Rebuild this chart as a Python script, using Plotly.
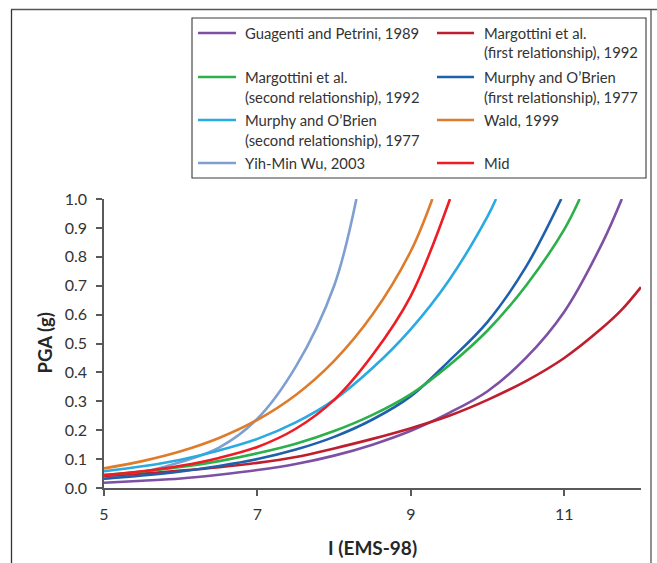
import plotly.graph_objects as go

# ---------------- data ----------------
I_guagenti = [5, 5.5, 6, 6.5, 7, 7.5, 8, 8.5, 9, 9.5, 10, 10.5, 11, 11.5, 11.75]
pga_guagenti = [0.018, 0.025, 0.033, 0.046, 0.062, 0.083, 0.112, 0.15, 0.198, 0.26, 0.335, 0.45, 0.61, 0.85, 1.0]

I_marg1 = [5, 5.5, 6, 6.5, 7, 7.5, 8, 8.5, 9, 9.5, 10, 10.5, 11, 11.5, 11.75, 12]
pga_marg1 = [0.042, 0.05, 0.06, 0.072, 0.087, 0.107, 0.137, 0.17, 0.207, 0.25, 0.305, 0.37, 0.45, 0.555, 0.617, 0.695]

I_marg2 = [5, 5.5, 6, 6.5, 7, 7.5, 8, 8.5, 9, 9.5, 10, 10.5, 11, 11.2]
pga_marg2 = [0.045, 0.057, 0.073, 0.093, 0.12, 0.153, 0.197, 0.253, 0.325, 0.425, 0.545, 0.70, 0.895, 1.0]

I_murphy1 = [5, 5.5, 6, 6.5, 7, 7.5, 8, 8.5, 9, 9.5, 10, 10.5, 10.96]
pga_murphy1 = [0.032, 0.043, 0.057, 0.076, 0.100, 0.133, 0.177, 0.237, 0.318, 0.44, 0.575, 0.765, 1.0]

I_murphy2 = [5, 5.5, 6, 6.5, 7, 7.5, 8, 8.5, 9, 9.5, 10, 10.11]
pga_murphy2 = [0.058, 0.075, 0.098, 0.13, 0.17, 0.227, 0.305, 0.415, 0.55, 0.72, 0.94, 1.0]

I_wald = [5, 5.5, 6, 6.5, 7, 7.5, 8, 8.5, 9, 9.28]
pga_wald = [0.068, 0.093, 0.127, 0.173, 0.236, 0.322, 0.44, 0.60, 0.82, 1.0]

I_wu = [5, 5.5, 6, 6.5, 7, 7.5, 8, 8.29]
pga_wu = [0.032, 0.054, 0.09, 0.14, 0.24, 0.42, 0.70, 1.0]

I_mid = [5, 5.5, 6, 6.5, 7, 7.5, 8, 8.5, 9, 9.51]
pga_mid = [0.045, 0.058, 0.077, 0.104, 0.142, 0.205, 0.305, 0.46, 0.665, 1.0]

series_names = [
    ["Guagenti and Petrini, 1989"],
    ["Margottini et al.", "(first relationship), 1992"],
    ["Margottini et al.", "(second relationship), 1992"],
    ["Murphy and O\u2019Brien", "(first relationship), 1977"],
    ["Murphy and O\u2019Brien", "(second relationship), 1977"],
    ["Wald, 1999"],
    ["Yih-Min Wu, 2003"],
    ["Mid"],
]
x_ticks = [5, 7, 9, 11]

# ---------------- styling ----------------
colors = ["#7d50a4", "#be1e2d", "#2bb04a", "#1f60ad", "#29abe2",
          "#df7c2c", "#7f9fd1", "#ee1c25"]
series_I = [I_guagenti, I_marg1, I_marg2, I_murphy1, I_murphy2, I_wald, I_wu, I_mid]
series_P = [pga_guagenti, pga_marg1, pga_marg2, pga_murphy1, pga_murphy2, pga_wald, pga_wu, pga_mid]

FONT = "Lato"
W, H = 657, 563
L, R, T, B = 104, 641, 199, 488   # plot area in pixels


def px(x):
    return (x - L) / (R - L)


def py(y):
    return (B - y) / (B - T)


fig = go.Figure()
order = [6, 0, 1, 3, 2, 4, 5, 7]
for k in order:
    fig.add_trace(go.Scatter(
        x=series_I[k], y=series_P[k], mode="lines",
        line=dict(color=colors[k], width=2.6, shape="spline", smoothing=1.0),
        name=" ".join(series_names[k]), showlegend=False,
    ))

shapes = []
annotations = []

# outer frame
shapes.append(dict(type="line", xref="paper", yref="paper",
                   x0=px(11), x1=px(657), y0=py(9.5), y1=py(9.5),
                   line=dict(color="#555555", width=1.6)))
shapes.append(dict(type="line", xref="paper", yref="paper",
                   x0=px(11.5), x1=px(11.5), y0=py(9.5), y1=py(570),
                   line=dict(color="#333333", width=1.3)))
shapes.append(dict(type="line", xref="paper", yref="paper",
                   x0=px(651), x1=px(651), y0=py(9.5), y1=py(570),
                   line=dict(color="#555555", width=1.3)))

# legend box
shapes.append(dict(type="rect", xref="paper", yref="paper",
                   x0=px(192), x1=px(646), y0=py(178), y1=py(18),
                   line=dict(color="#3a3a3a", width=1.1), fillcolor="rgba(0,0,0,0)"))

legend_pos = [(0, 0), (1, 0), (0, 1), (1, 1), (0, 2), (1, 2), (0, 3), (1, 3)]
col_line = [(198, 236), (437, 474)]
col_text = [243, 482]
row_y = [33, 77, 120, 163]
line_gap = 19.5

for k, (c, r) in enumerate(legend_pos):
    y0 = row_y[r]
    shapes.append(dict(type="line", xref="paper", yref="paper",
                       x0=px(col_line[c][0]), x1=px(col_line[c][1]),
                       y0=py(y0), y1=py(y0),
                       line=dict(color=colors[k], width=2.6)))
    for j, txt in enumerate(series_names[k]):
        annotations.append(dict(
            xref="paper", yref="paper", x=px(col_text[c]), y=py(y0 + j * line_gap),
            xanchor="left", yanchor="middle", text=txt, showarrow=False,
            font=dict(family=FONT, size=14.8, color="#333333"),
        ))

# axis titles
annotations.append(dict(xref="paper", yref="paper", x=px(44), y=py(343.5),
                        text="<b>PGA (g)</b>", textangle=-90, showarrow=False,
                        xanchor="center", yanchor="middle",
                        font=dict(family=FONT, size=18.5, color="#262626")))
annotations.append(dict(xref="paper", yref="paper", x=px(372.5), y=py(547),
                        text="<b>I (EMS-98)</b>", showarrow=False,
                        xanchor="center", yanchor="middle",
                        font=dict(family=FONT, size=19, color="#262626")))

axis_color = "#595959"
fig.update_layout(
    width=W, height=H,
    margin=dict(l=L, r=W - R, t=T, b=H - B, pad=0),
    paper_bgcolor="white", plot_bgcolor="white",
    font=dict(family=FONT, size=16, color="#333333"),
    showlegend=False,
    shapes=shapes, annotations=annotations,
    xaxis=dict(range=[5, 12], tickvals=x_ticks, showgrid=False, zeroline=False,
               showline=True, linecolor=axis_color, linewidth=1.5,
               ticks="outside", ticklen=6, tickwidth=1.5, tickcolor=axis_color,
               ticklabelstandoff=5, tickfont=dict(family=FONT, size=16, color="#333333")),
    yaxis=dict(range=[0, 1], dtick=0.1, tickformat=".1f", showgrid=False, zeroline=False,
               showline=True, linecolor=axis_color, linewidth=1.5,
               ticks="outside", ticklen=6, tickwidth=1.5, tickcolor=axis_color,
               ticklabelstandoff=6, tickfont=dict(family=FONT, size=16, color="#333333")),
)

fig.write_html("out.html")
